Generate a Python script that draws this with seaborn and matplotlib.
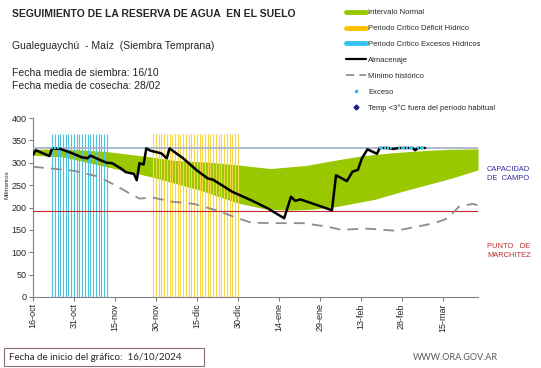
"""
Seguimiento de la reserva de agua en el suelo - Gualeguaychú, Maíz.
"""

import pandas as pd
import numpy as np
import matplotlib
matplotlib.use('Agg')
import matplotlib.pyplot as plt
from matplotlib.lines import Line2D
from matplotlib.patches import Rectangle
import seaborn as sns

sns.set_style('white')
plt.rcParams['font.family'] = ['Liberation Sans', 'DejaVu Sans']

# ---- data (days since 16/10/2024) ----
START = pd.Timestamp('2024-10-16')
X_MAX = 163

band_days = [0, 11, 27, 43, 52, 58, 65, 75, 87, 100, 111, 120, 131, 145, 153, 163]
band_upper = [330, 331, 325, 313, 305, 303, 301, 295, 287, 294, 306, 315, 322, 328, 330, 331]
low_days = [0, 11, 27, 43, 61, 75, 85, 93, 102, 111, 125, 137, 153, 163]
band_lower = [317, 313, 291, 269, 239, 210, 197, 194, 196, 202, 218, 239, 265, 284]

min_days = [0, 15, 24, 30, 35, 39, 44, 51, 59, 67, 75, 80, 88, 99, 108, 113,
            122, 133, 147, 152, 156, 161, 163]
min_hist = [291, 282, 269, 250, 233, 220, 222, 213, 208, 194, 176, 166, 165, 165, 157, 150,
            153, 148, 165, 176, 202, 208, 205]

alm_days = [0, 1, 6, 7, 10, 14, 18, 20, 21, 25, 27, 29, 32, 34, 37, 38, 39, 40.5, 41.5,
            43, 45, 47, 49, 50, 55, 60, 64, 66, 73, 80, 86, 92, 94.5, 96, 98, 109.5,
            111, 115, 117, 119, 120.5, 122.5, 126, 127, 130, 132, 134, 139, 140, 141, 143.6]
almacenaje = [318, 328, 315, 332, 331, 322, 312, 310, 316, 305, 300, 299, 288, 279, 275, 261,
              299, 296, 332, 327, 324, 321, 310, 332, 310, 283, 265, 262, 235, 216, 198, 176,
              224, 215, 218, 194, 272, 259, 280, 284, 310, 330, 320, 333, 333, 331, 333, 333,
              328, 333, 333]

exceso_days = [7, 8, 9, 127, 128, 129, 130, 131, 134, 135, 136, 137, 138, 139, 141, 142, 143]
exceso_vals = [333] * len(exceso_days)

excess_period = list(range(7, 28))     # periodo crítico excesos hídricos
deficit_period = list(range(44, 76))   # periodo crítico déficit hídrico
PERIOD_TOP = 365

CAPACIDAD = 333
MARCHITEZ = 192

MESES = {10: 'oct', 11: 'nov', 12: 'dic', 1: 'ene', 2: 'feb', 3: 'mar'}
tick_days = list(range(0, 151, 15))
tick_labels = [f"{(START + pd.Timedelta(days=d)).day}-{MESES[(START + pd.Timedelta(days=d)).month]}"
               for d in tick_days]

GREEN = '#99c800'
YELLOW = '#f4d54a'
CYAN = '#4cc4e0'
EXC = '#22c0ee'

fig = plt.figure(figsize=(5.41, 3.68), dpi=100)
ax = fig.add_axes([33 / 541, 1 - 297 / 368, 445 / 541, 179 / 368])

# normal interval band
bd = np.arange(0, X_MAX + 1)
up = np.interp(bd, band_days, band_upper)
lo = np.interp(bd, low_days, band_lower)
ax.fill_between(bd, lo, up, color=GREEN, lw=0, zorder=1)

# critical periods
ax.vlines(excess_period, 0, PERIOD_TOP, color=CYAN, lw=0.8, zorder=2)
ax.vlines(deficit_period, 0, PERIOD_TOP, color=YELLOW, lw=0.8, zorder=2)

# reference lines
ax.axhline(CAPACIDAD, color='#a7b4c9', lw=1.3, zorder=3)
ax.axhline(MARCHITEZ, color='#c0282d', lw=0.8, zorder=3)

sns.lineplot(x=min_days, y=min_hist, ax=ax, color='#8c8c8c', lw=1.3,
             linestyle=(0, (6, 4)), zorder=4)
sns.lineplot(x=alm_days, y=almacenaje, ax=ax, color='black', lw=1.8, zorder=5)
ax.scatter(exceso_days, exceso_vals, marker='s', s=3, color=EXC, zorder=6, lw=0)

ax.set_xlim(0, X_MAX)
ax.set_ylim(0, 400)
ax.set_yticks(range(0, 401, 50))
ax.set_xticks(tick_days)
ax.set_xticklabels(tick_labels, rotation=90)
ax.tick_params(axis='both', labelsize=6.5, length=3, direction='out', color='#808080',
               pad=1.5, left=True, bottom=True)
for s in ['top', 'right']:
    ax.spines[s].set_visible(False)
for s in ['left', 'bottom']:
    ax.spines[s].set_color('#808080')
    ax.spines[s].set_linewidth(0.8)
ax.set_xlabel('')
ax.set_ylabel('')

# header texts
fig.text(12 / 541, 1 - 14 / 368, 'SEGUIMIENTO DE LA RESERVA DE AGUA  EN EL SUELO',
         fontsize=7.5, fontweight='bold', va='center')
fig.text(12 / 541, 1 - 46 / 368, 'Gualeguaychú  - Maíz  (Siembra Temprana)',
         fontsize=7.5, va='center')
fig.text(12 / 541, 1 - 73 / 368, 'Fecha media de siembra: 16/10', fontsize=7.5, va='center')
fig.text(12 / 541, 1 - 86 / 368, 'Fecha media de cosecha: 28/02', fontsize=7.5, va='center')
fig.text(7 / 541, 1 - 185 / 368, 'Milímetros', fontsize=4.5, rotation=90,
         va='center', ha='center')

# legend
handles = [
    Line2D([], [], color=GREEN, lw=3.5),
    Line2D([], [], color='#ffc000', lw=3.5),
    Line2D([], [], color='#33c3ee', lw=3.5),
    Line2D([], [], color='black', lw=1.6),
    Line2D([], [], color='#8a8a8a', lw=1.2, linestyle=(0, (5, 3))),
    Line2D([], [], color=EXC, marker='s', ms=2, lw=0),
    Line2D([], [], color='#1a1a8c', marker='D', ms=2.5, lw=0),
]
labels = ['Intervalo Normal', 'Periodo Crítico Déficit Hídrico',
          'Periodo Crítico Excesos Hídricos', 'Almacenaje', 'Mínimo histórico',
          'Exceso', 'Temp <3°C fuera del período habitual']
fig.legend(handles, labels, loc='upper left', bbox_to_anchor=(346 / 541, 1 - 9 / 368),
           frameon=False, fontsize=5.5, handlelength=2.6, handletextpad=0.3,
           labelspacing=1.12, borderaxespad=0, borderpad=0)

# side labels
fig.text(487 / 541, 1 - 174 / 368, 'CAPACIDAD\nDE  CAMPO', fontsize=5.4, color='#2e2e9e',
         va='center', linespacing=1.3)
fig.text(487 / 541, 1 - 251 / 368, 'PUNTO   DE\nMARCHITEZ', fontsize=5.4, color='#c0282d',
         va='center', linespacing=1.3)

# footer
fig.add_artist(Rectangle((3.5 / 541, 1 - 366 / 368), 200 / 541, 18 / 368,
                         transform=fig.transFigure, fill=False, ec='#8a7070', lw=0.8))
fig.text(9 / 541, 1 - 357 / 368, 'Fecha de inicio del gráfico:  16/10/2024',
         fontsize=7, va='center', family=['Lato', 'DejaVu Sans'])
fig.text(498 / 541, 1 - 357 / 368, 'WWW.ORA.GOV.AR', fontsize=6.5, va='center',
         ha='right', color='#595959', family=['Lato', 'DejaVu Sans'])

fig.savefig('out.png', dpi=100)
plt.close(fig)
